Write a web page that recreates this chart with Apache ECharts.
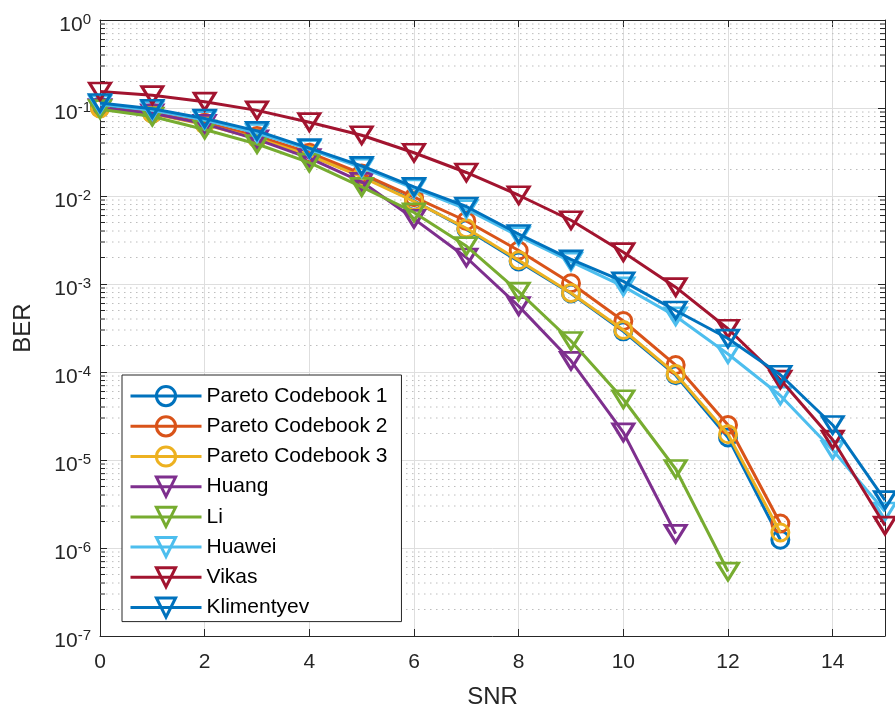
<!DOCTYPE html>
<html>
<head>
<meta charset="utf-8">
<script src="https://cdn.jsdelivr.net/npm/echarts@6/dist/echarts.min.js"></script>
<style>
html,body{margin:0;padding:0;background:#fff;}
#chart{width:895px;height:714px;}
</style>
</head>
<body>
<div id="chart"></div>
<script>
// ---- data ----
const snr = [0,1,2,3,4,5,6,7,8,9,10,11,12,13,14,15];
const seriesNames = ['Pareto Codebook 1','Pareto Codebook 2','Pareto Codebook 3','Huang','Li','Huawei','Vikas','Klimentyev'];
const pareto1 = [0.104,0.087,0.066,0.046,0.029,0.017,0.0088,0.0042,0.0018,0.00078,0.00029,0.000092,0.000018,0.00000124];
const pareto2 = [0.100,0.088,0.068,0.048,0.031,0.018,0.0097,0.0052,0.0024,0.00102,0.00038,0.00012,0.000025,0.0000019];
const pareto3 = [0.099,0.086,0.065,0.045,0.029,0.0165,0.0087,0.0043,0.00186,0.00079,0.00030,0.000095,0.0000196,0.0000015];
const huang   = [0.100,0.087,0.066,0.044,0.027,0.0145,0.0055,0.0020,0.00056,0.000134,0.0000206,0.00000145];
const li      = [0.097,0.080,0.057,0.039,0.024,0.0127,0.0065,0.0027,0.00082,0.000225,0.000049,0.0000079,0.00000054];
const huawei  = [0.110,0.094,0.073,0.052,0.034,0.021,0.0122,0.0071,0.0035,0.0018,0.00094,0.00043,0.00016,0.000054,0.000013,0.0000026];
const vikas   = [0.154,0.140,0.118,0.094,0.069,0.049,0.031,0.0185,0.0102,0.0053,0.0023,0.00092,0.00031,0.000082,0.000017,0.0000018];
const klim    = [0.114,0.098,0.076,0.055,0.035,0.022,0.0127,0.0076,0.0037,0.0019,0.00107,0.00050,0.00024,0.000093,0.000025,0.0000035];
const xTicks = [0,2,4,6,8,10,12,14];
const yDecades = [-7,-6,-5,-4,-3,-2,-1,0];
const minorMultipliers = [2,3,4,5,6,7,8,9];

// ---- build ----
const colors = ['#0072BD','#D95319','#EDB120','#7E2F8E','#77AC30','#4DBEEE','#A2142F','#0072BD'];
const values = [pareto1,pareto2,pareto3,huang,li,huawei,vikas,klim];
const isCircle = [true,true,true,false,false,false,false,false];

const minorVals = [];
yDecades.slice(0,-1).forEach(d => minorMultipliers.forEach(m => minorVals.push([m*Math.pow(10,d)])));

const FONT = '"Liberation Sans", Arial, Helvetica, sans-serif';
const TXT = '#262626';

const lineSeries = seriesNames.map((name,i) => ({
  name: name,
  type: 'line',
  xAxisIndex: 0, yAxisIndex: 0,
  data: values[i].map((v,j) => [snr[j], v]),
  symbol: isCircle[i] ? 'circle' : 'triangle',
  symbolSize: isCircle[i] ? 17 : [21, 17],
  symbolRotate: isCircle[i] ? 0 : 180,
  showAllSymbol: true,
  clip: false,
  z: 3 + i,
  lineStyle: {color: colors[i], width: 3},
  itemStyle: {color: 'rgba(255,255,255,0)', borderColor: colors[i], borderWidth: 3},
  emphasis: {disabled: true},
  animation: false
}));

const minorSeries = {
  type: 'custom',
  name: 'minor',
  xAxisIndex: 0, yAxisIndex: 0,
  data: minorVals,
  encode: {y: 0},
  silent: true,
  z: 1,
  animation: false,
  renderItem: function(params, api) {
    const v = api.value(0);
    const p0 = api.coord([0, v]);
    const p1 = api.coord([15, v]);
    return {
      type: 'group',
      children: [
        {type:'line', shape:{x1:p0[0], y1:p0[1], x2:p1[0], y2:p1[1]},
         style:{stroke:'#bdbdbd', lineWidth:1, lineDash:[1.5,4.5]}},
        {type:'line', shape:{x1:p0[0], y1:p0[1], x2:p0[0]+5, y2:p0[1]},
         style:{stroke:TXT, lineWidth:1}},
        {type:'line', shape:{x1:p1[0]-5, y1:p1[1], x2:p1[0], y2:p1[1]},
         style:{stroke:TXT, lineWidth:1}}
      ]
    };
  }
};

const chart = echarts.init(document.getElementById('chart'), null, {renderer:'canvas'});
chart.setOption({
  animation: false,
  backgroundColor: '#ffffff',
  grid: {left: 100, right: 10, top: 20, bottom: 74, containLabel: false},
  legend: {
    data: seriesNames,
    orient: 'vertical',
    left: 122, top: 375,
    backgroundColor: '#ffffff',
    borderColor: TXT, borderWidth: 1,
    padding: [10, 14, 3, 7],
    itemWidth: 71, itemHeight: 24, itemGap: 8,
    lineStyle: {width: 3},
    itemStyle: {borderWidth: 3},
    textStyle: {fontFamily: FONT, fontSize: 21, color: '#000'},
    selectedMode: false,
    z: 20
  },
  xAxis: [{
    type: 'value', min: 0, max: 15, interval: 2,
    name: 'SNR', nameLocation: 'middle', nameGap: 49,
    nameTextStyle: {fontFamily: FONT, fontSize: 24, color: TXT},
    axisLine: {show: true, lineStyle: {color: TXT, width: 1}},
    axisTick: {show: true, inside: true, length: 7, lineStyle: {color: TXT}},
    axisLabel: {fontFamily: FONT, fontSize: 21, color: TXT, margin: 16,
      formatter: v => xTicks.indexOf(v) >= 0 ? String(v) : ''},
    splitLine: {show: true, lineStyle: {color: '#dedede', width: 1}}
  },{
    type: 'value', min: 0, max: 15, interval: 2, position: 'top',
    axisLine: {show: true, onZero: false, lineStyle: {color: TXT, width: 1}},
    axisTick: {show: true, inside: true, length: 7, lineStyle: {color: TXT}},
    axisLabel: {show: false},
    splitLine: {show: false}
  }],
  yAxis: [{
    type: 'log', logBase: 10, min: 1e-7, max: 1,
    name: 'BER', nameLocation: 'middle', nameGap: 65, nameRotate: 90,
    nameTextStyle: {fontFamily: FONT, fontSize: 24, color: TXT},
    axisLine: {show: true, lineStyle: {color: TXT, width: 1}},
    axisTick: {show: true, inside: true, length: 7, lineStyle: {color: TXT}},
    axisLabel: {
      margin: 9, color: TXT, fontFamily: FONT,
      padding: [11, 0, 0, 0],
      formatter: v => { const e = Math.round(Math.log10(v)); return '{b|10}{s|' + e + '}'; },
      rich: {
        b: {fontFamily: FONT, fontSize: 21, color: TXT},
        s: {fontFamily: FONT, fontSize: 15, color: TXT, padding: [0,0,11,0]}
      }
    },
    splitLine: {show: true, lineStyle: {color: '#dedede', width: 1}}
  },{
    type: 'log', logBase: 10, min: 1e-7, max: 1, position: 'right',
    axisLine: {show: true, onZero: false, lineStyle: {color: TXT, width: 1}},
    axisTick: {show: true, inside: true, length: 7, lineStyle: {color: TXT}},
    axisLabel: {show: false},
    splitLine: {show: false}
  }],
  series: [minorSeries].concat(lineSeries)
});
</script>
</body>
</html>
